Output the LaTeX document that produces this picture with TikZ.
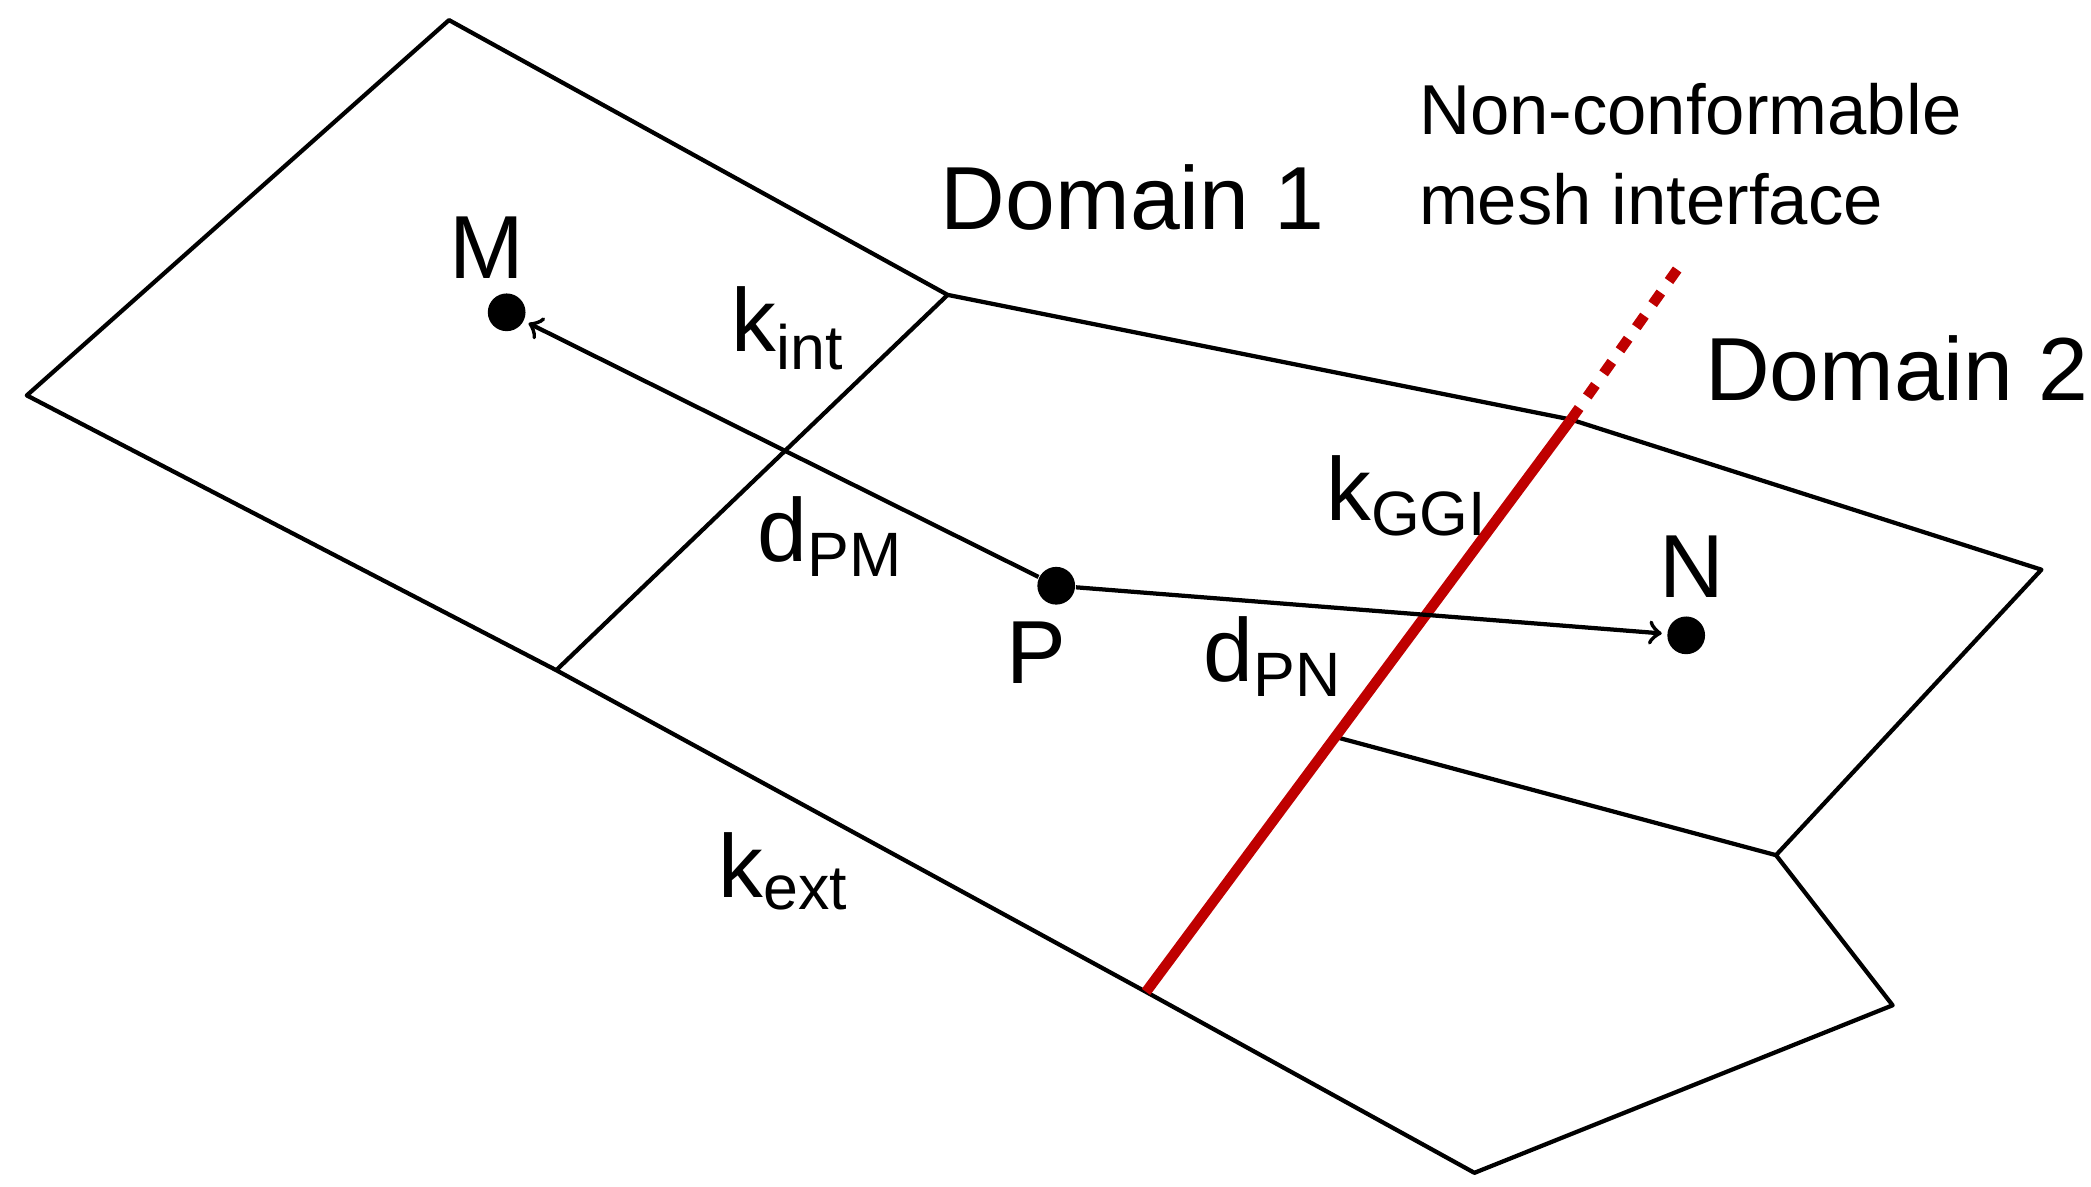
\documentclass[tikz,border=0pt]{standalone}
\usepackage{fontspec}
\setmainfont{Liberation Sans}
\usepackage{tikz}
\usetikzlibrary{positioning}

\tikzset{
  mesh/.style={draw=black, line width=0.9pt, line join=round},
  iface/.style={draw=red!75!black, line width=2.2pt},
  dot/.style={circle, fill=black, inner sep=0pt, minimum size=8pt},
  lbl/.style={font=\fontsize{19}{22}\selectfont, inner sep=0pt},
  note/.style={font=\fontsize{15}{19}\selectfont, inner sep=0pt, align=left}
}

\begin{document}
\begin{tikzpicture}[x=0.01cm, y=-0.01cm]
    \useasboundingbox (0,0) rectangle (1560,885);
    % mesh corners
    \coordinate (a) at (335,15);
    \coordinate (b) at (707,220);
    \coordinate (c) at (1172,313);
    \coordinate (d) at (1523,425);
    \coordinate (e) at (1325,638);
    \coordinate (f) at (1412,750);
    \coordinate (g) at (1100,875);
    \coordinate (h) at (855,740);
    \coordinate (i) at (415,500);
    \coordinate (j) at (20,295);
    \coordinate (k) at (997,550);
    \coordinate (l) at (1252,200);
    \draw[mesh] (a) -- (b) -- (c) -- (d) -- (e) -- (f) -- (g) -- (h) -- (i) -- (j) -- cycle;
    \draw[mesh] (b) -- (i);
    \draw[mesh] (k) -- (e);
    % interface
    \draw[iface] (h) -- (c);
    \draw[iface, dashed] (c) -- (l);
    % cell centres
    \node[dot] (M) at (378,233) {};
    \node[dot] (P) at (788,437) {};
    \node[dot] (N) at (1258,474) {};
    \draw[->, line width=0.9pt, shorten >=1pt] (P) -- (M);
    \draw[->, line width=0.9pt, shorten >=1pt] (P) -- (N);
    % labels
    \node[lbl] (lM) at (363,185) {M};
    \node[lbl] (lP) at (773,487) {P};
    \node[lbl] (lN) at (1262,423) {N};
    \node[lbl] (kint) at (588,245) {k\textsubscript{int}};
    \node[lbl] (dPM) at (620,400) {d\textsubscript{PM}};
    \node[lbl] (kGGI) at (1050,370) {k\textsubscript{GGI}};
    \node[lbl] (dPN) at (950,490) {d\textsubscript{PN}};
    \node[lbl] (kext) at (585,650) {k\textsubscript{ext}};
    \node[lbl] (dom1) at (845,147) {Domain 1};
    \node[lbl] (dom2) at (1415,275) {Domain 2};
    \node[note, anchor=west] (nc) at (1058,115) {Non-conformable\\mesh interface};
\end{tikzpicture}
\end{document}
